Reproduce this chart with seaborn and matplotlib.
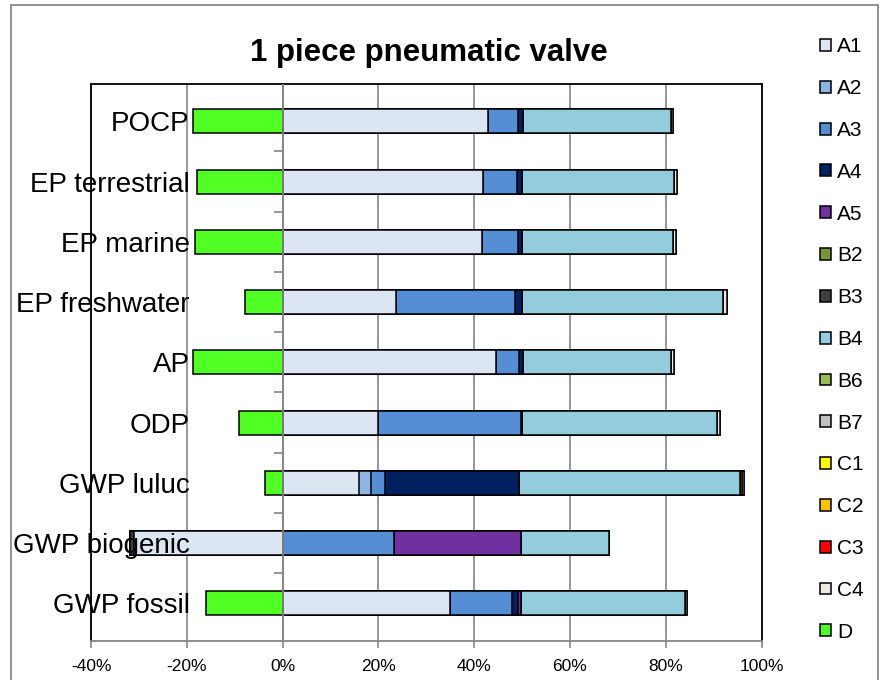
import numpy as np
import pandas as pd
import matplotlib
matplotlib.use("Agg")
import matplotlib.pyplot as plt
from matplotlib.patches import Patch, Rectangle
from matplotlib.ticker import FuncFormatter
import seaborn as sns

# Datos (en %), categorias de arriba hacia abajo
categorias = ["POCP", "EP terrestrial", "EP marine", "EP freshwater", "AP",
              "ODP", "GWP luluc", "GWP biogenic", "GWP fossil"]

A1 = [42.8, 41.8, 41.6, 23.7, 44.6, 20.0, 15.9, -31.0, 35.0]
A2 = [0, 0, 0, 0, 0, 0, 2.5, 0, 0]
A3 = [6.3, 7.1, 7.5, 24.9, 4.7, 29.8, 3.0, 23.3, 12.9]
A4 = [1.0, 1.1, 0.9, 1.3, 0.8, 0.2, 28.0, 0, 1.2]
A5 = [0, 0, 0, 0, 0, 0, 0, 26.5, 0.6]
B2 = [0, 0, 0, 0, 0, 0, 0, 0, 0]
B3 = [0, 0, 0, 0, 0, 0, 0, -0.9, 0]
B4 = [31.1, 31.8, 31.5, 42.1, 31.0, 40.7, 46.1, 18.3, 34.3]
B6 = [0, 0, 0, 0, 0, 0, 0, 0, 0]
B7 = [0, 0, 0, 0, 0, 0, 0, 0, 0]
C1 = [0, 0, 0, 0, 0, 0, 0, 0, 0]
C2 = [0, 0, 0, 0, 0, 0, 0.4, 0, 0]
C3 = [0, 0, 0, 0, 0, 0, 0, 0, 0]
C4 = [0.4, 0.6, 0.7, 0.8, 0.6, 0.7, 0.5, 0, 0.5]
D = [-18.8, -17.9, -18.3, -7.8, -18.8, -9.0, -3.7, 0, -15.9]

series = ["A1", "A2", "A3", "A4", "A5", "B2", "B3", "B4", "B6", "B7",
          "C1", "C2", "C3", "C4", "D"]
colores = ["#DCE6F2", "#8EB4E3", "#558ED5", "#002060", "#7030A0", "#77933C",
           "#404040", "#93CDDD", "#9BBB59", "#BFBFBF", "#FFFF00", "#FFC000",
           "#FF0000", "#EEECE1", "#52FF24"]

df = pd.DataFrame({"A1": A1, "A2": A2, "A3": A3, "A4": A4, "A5": A5, "B2": B2,
                   "B3": B3, "B4": B4, "B6": B6, "B7": B7, "C1": C1, "C2": C2,
                   "C3": C3, "C4": C4, "D": D}, index=categorias)

# Apilado: positivos hacia la derecha, negativos hacia la izquierda
pos = df.clip(lower=0).cumsum(axis=1)
neg = df.clip(upper=0).cumsum(axis=1)

# Estilo
sns.set_theme(style="white")
plt.rcParams["font.family"] = ["Liberation Sans", "DejaVu Sans"]
plt.rcParams["axes.unicode_minus"] = False
plt.rcParams["text.color"] = "black"
plt.rcParams["xtick.labelcolor"] = "black"
plt.rcParams["ytick.labelcolor"] = "black"

fig = plt.figure(figsize=(8.81, 6.8), dpi=100)
ax = fig.add_axes([91 / 881, 1 - 640.7 / 680, (761.5 - 91) / 881, (640.7 - 84) / 680])

gris = "#868686"
for s, c in reversed(list(zip(series, colores))):
    for acum in (pos, neg):
        sns.barplot(x=acum[s].values, y=categorias, order=categorias, orient="h",
                    color=c, saturation=1, edgecolor="black", linewidth=1.1,
                    width=0.4, errorbar=None, ax=ax, zorder=3)

ax.set_xlim(-40, 100)
ax.set_xticks(np.arange(-40, 101, 20))
ax.xaxis.set_major_formatter(FuncFormatter(lambda v, _: f"{v:.0f}%"))
ax.xaxis.grid(True, color=gris, lw=1.2)
ax.set_axisbelow(True)
ax.set_xlabel("")
ax.set_ylabel("")

# eje de categorias en 0%
ax.axvline(0, color=gris, lw=1.3, zorder=5)
limites = np.arange(len(categorias) - 1) + 0.5
ax.hlines(limites, -1.7, 0, color=gris, lw=1.2, zorder=5)

ax.tick_params(axis="x", bottom=True, length=5, width=1.2, color=gris,
               labelsize=12.5, pad=8)
ax.tick_params(axis="y", left=False, labelsize=20, pad=-77)
for lab in ax.get_yticklabels():
    lab.set_horizontalalignment("right")
ax.yaxis.set_zorder(6)

for lado in ["left", "top", "right"]:
    ax.spines[lado].set_color("black")
    ax.spines[lado].set_linewidth(1.3)
ax.spines["bottom"].set_color(gris)
ax.spines["bottom"].set_linewidth(1.3)

fig.text(429 / 881, 1 - 53 / 680, "1 piece pneumatic valve", ha="center",
         va="center", fontsize=22.5, fontweight="bold")

handles = [Patch(facecolor=c, edgecolor="black", linewidth=1.1) for c in colores]
fig.legend(handles, series, loc="upper left", bbox_to_anchor=(812 / 881, 1 - 29 / 680),
           frameon=False, fontsize=15, handlelength=0.5, handleheight=0.5,
           handletextpad=0.3, labelspacing=1.095, borderaxespad=0)

# marco exterior del grafico
fig.patches.append(Rectangle((11 / 881, -0.02), (878 - 11) / 881, 1 - 5 / 680 + 0.02,
                             transform=fig.transFigure, fill=False,
                             edgecolor="#898989", lw=1.3))

fig.savefig("out.png", dpi=100)
